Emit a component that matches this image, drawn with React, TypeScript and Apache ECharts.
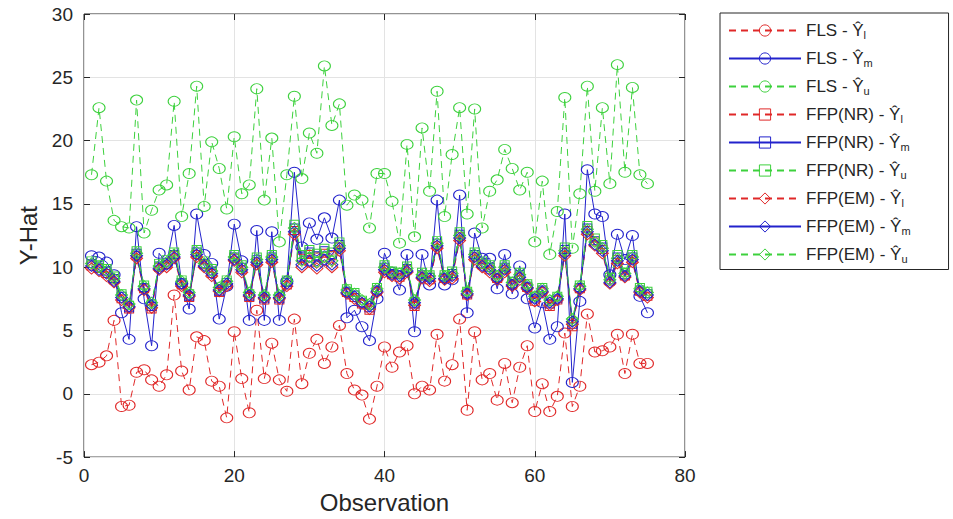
import React, { useEffect, useRef } from "react";
import * as echarts from "echarts";

const FONT = "'Liberation Sans', Arial, Helvetica, sans-serif";
const RED = "#e02828";
const BLUE = "#2222cc";
const GREEN = "#3dd13d";
const INK = "#262626";

const xRange = [0, 80];
const xStep = 20;
const yRange = [-5, 30];
const yStep = 5;

// Observation index runs 1..75
const flsLower = [
  2.3, 2.5, 3.0, 5.8, -1.0, -0.9, 1.7, 1.9, 1.1, 0.6,
  1.5, 7.8, 1.8, 0.3, 4.5, 4.2, 1.0, 0.6, -1.9, 4.9,
  1.2, -1.5, 6.6, 1.2, 4.0, 1.1, 0.2, 5.9, 0.8, 3.2,
  4.3, 2.4, 3.7, 5.4, 1.6, 0.3, -0.1, -2.0, 0.6, 3.7,
  2.1, 3.3, 3.8, 0.0, 0.6, 0.3, 4.7, 1.0, 2.3, 5.9,
  -1.3, 4.9, 1.1, 1.6, -0.5, 2.4, -0.7, 2.1, 3.8, -1.4,
  0.8, -1.4, -0.2, 4.8, -1.0, 0.6, 6.3, 3.3, 3.4, 3.7,
  4.7, 1.6, 4.7, 2.4, 2.4,
];

const flsMid = [
  10.9, 10.8, 10.4, 9.4, 6.4, 4.3, 13.2, 7.5, 3.8, 11.1,
  10.3, 13.3, 8.7, 6.7, 14.2, 11.0, 10.3, 5.9, 8.5, 13.4,
  10.5, 5.8, 12.9, 5.8, 12.8, 5.8, 8.9, 17.5, 11.6, 13.5,
  12.2, 13.9, 12.3, 15.3, 6.0, 6.6, 5.3, 4.2, 7.5, 11.1,
  9.6, 8.2, 11.0, 4.9, 11.0, 8.6, 15.3, 8.6, 9.0, 15.7,
  6.4, 12.7, 10.7, 10.7, 8.3, 11.0, 7.9, 10.1, 7.5, 5.2,
  7.2, 4.3, 5.3, 14.2, 0.9, 7.3, 17.7, 14.2, 14.0, 9.4,
  12.6, 10.6, 12.5, 7.7, 6.4,
];

const flsUpper = [
  17.3, 22.6, 16.8, 13.7, 13.2, 13.1, 23.2, 12.7, 14.5, 16.1,
  16.5, 23.1, 14.0, 17.4, 24.3, 14.8, 19.9, 17.8, 14.6, 20.3,
  15.8, 16.5, 24.1, 15.3, 20.2, 12.0, 17.3, 23.5, 17.0, 20.6,
  19.0, 25.9, 21.2, 22.9, 14.9, 15.7, 15.3, 13.1, 17.4, 17.4,
  15.2, 11.9, 19.7, 12.4, 21.0, 16.0, 23.9, 14.0, 18.9, 22.6,
  14.2, 22.5, 13.1, 16.0, 16.9, 19.3, 17.8, 16.1, 17.5, 12.0,
  16.8, 11.0, 14.4, 23.4, 11.5, 15.8, 24.3, 16.0, 22.6, 16.6,
  26.0, 17.5, 24.2, 17.3, 16.6,
];

const nrLower = [
  10.1, 9.9, 9.5, 9.0, 7.5, 6.7, 10.9, 8.3, 6.7, 10.0,
  10.2, 10.9, 8.6, 7.6, 11.0, 10.2, 9.5, 8.0, 8.6, 10.7,
  9.8, 7.6, 10.4, 7.4, 10.6, 7.4, 8.6, 12.9, 10.7, 11.0,
  10.8, 11.1, 10.9, 11.6, 8.0, 7.6, 7.1, 6.6, 8.1, 9.8,
  9.4, 9.2, 9.8, 6.9, 9.3, 9.0, 11.7, 9.1, 9.3, 12.4,
  7.8, 10.8, 10.2, 9.8, 9.1, 9.8, 8.6, 9.2, 8.4, 7.3,
  8.1, 6.9, 7.4, 11.2, 5.3, 8.3, 12.9, 12.0, 11.4, 8.9,
  10.6, 9.3, 10.6, 8.1, 7.7,
];

const nrMid = [
  10.3, 10.0, 9.7, 9.1, 7.7, 6.8, 11.1, 8.4, 6.9, 10.1,
  10.4, 11.0, 8.8, 7.7, 11.2, 10.3, 9.7, 8.1, 8.8, 10.8,
  10.0, 7.7, 10.6, 7.5, 10.8, 7.5, 8.8, 13.1, 10.8, 11.2,
  10.9, 11.3, 11.0, 11.8, 8.1, 7.8, 7.2, 6.8, 8.2, 10.0,
  9.5, 9.4, 9.9, 7.1, 9.4, 9.2, 11.9, 9.2, 9.5, 12.6,
  7.9, 11.0, 10.3, 10.0, 9.2, 10.0, 8.7, 9.4, 8.5, 7.5,
  8.2, 7.1, 7.5, 11.4, 5.5, 8.4, 13.1, 12.1, 11.6, 9.0,
  10.8, 9.4, 10.8, 8.2, 7.9,
];

const nrUpper = [
  10.5, 10.2, 9.9, 9.3, 7.9, 7.0, 11.3, 8.6, 7.1, 10.3,
  10.6, 11.2, 9.0, 7.9, 11.4, 10.5, 9.9, 8.3, 9.0, 11.0,
  10.2, 7.9, 10.8, 7.7, 11.0, 7.7, 9.0, 13.4, 11.0, 11.4,
  11.1, 11.5, 11.2, 12.0, 8.3, 8.0, 7.4, 7.0, 8.4, 10.2,
  9.7, 9.6, 10.1, 7.3, 9.6, 9.4, 12.1, 9.4, 9.7, 12.8,
  8.1, 11.2, 10.5, 10.2, 9.4, 10.2, 8.9, 9.6, 8.7, 7.7,
  8.4, 7.3, 7.7, 11.6, 5.7, 8.6, 13.3, 12.3, 11.8, 9.2,
  11.0, 9.6, 11.0, 8.4, 8.1,
];

const emLower = [
  9.9, 9.7, 9.3, 8.8, 7.4, 6.8, 10.7, 8.2, 6.8, 9.8,
  10.0, 10.7, 8.5, 7.7, 10.8, 10.0, 9.3, 8.1, 8.5, 10.5,
  9.6, 7.7, 10.2, 7.5, 10.4, 7.5, 8.5, 12.6, 10.0, 10.4,
  9.9, 10.5, 10.0, 11.3, 7.9, 7.5, 7.1, 6.7, 8.0, 9.6,
  9.3, 9.1, 9.6, 7.0, 9.1, 8.9, 11.5, 9.0, 9.1, 12.1,
  7.8, 10.6, 10.0, 9.6, 9.0, 9.6, 8.5, 9.0, 8.3, 7.3,
  8.0, 7.0, 7.4, 10.9, 5.5, 8.2, 12.6, 11.7, 11.1, 8.7,
  10.3, 9.2, 10.4, 8.0, 7.6,
];

const emMid = [
  10.1, 9.8, 9.5, 8.9, 7.6, 6.9, 10.9, 8.3, 7.0, 9.9,
  10.2, 10.8, 8.7, 7.8, 11.0, 10.1, 9.5, 8.2, 8.7, 10.6,
  9.8, 7.8, 10.4, 7.6, 10.6, 7.6, 8.7, 12.8, 10.2, 10.5,
  10.1, 10.6, 10.2, 11.5, 8.0, 7.7, 7.2, 6.9, 8.1, 9.8,
  9.4, 9.3, 9.7, 7.2, 9.2, 9.1, 11.7, 9.1, 9.3, 12.3,
  7.9, 10.8, 10.1, 9.8, 9.1, 9.8, 8.6, 9.2, 8.4, 7.5,
  8.1, 7.2, 7.5, 11.1, 5.7, 8.3, 12.8, 11.8, 11.3, 8.8,
  10.5, 9.3, 10.6, 8.1, 7.8,
];

const emUpper = [
  10.3, 10.0, 9.7, 9.1, 7.8, 7.1, 11.1, 8.5, 7.2, 10.1,
  10.4, 11.0, 8.9, 8.0, 11.2, 10.3, 9.7, 8.4, 8.9, 10.8,
  10.0, 8.0, 10.6, 7.8, 10.8, 7.8, 8.9, 13.1, 10.5, 10.8,
  10.4, 10.8, 10.5, 11.7, 8.2, 7.9, 7.4, 7.1, 8.3, 10.0,
  9.6, 9.5, 9.9, 7.4, 9.4, 9.3, 11.9, 9.3, 9.5, 12.5,
  8.1, 11.0, 10.3, 10.0, 9.3, 10.0, 8.8, 9.4, 8.6, 7.7,
  8.3, 7.4, 7.7, 11.3, 5.9, 8.5, 13.0, 12.0, 11.5, 9.0,
  10.7, 9.5, 10.8, 8.3, 8.0,
];

const seriesNames = [
  "FLS - Ŷl",
  "FLS - Ŷm",
  "FLS - Ŷu",
  "FFP(NR) - Ŷl",
  "FFP(NR) - Ŷm",
  "FFP(NR) - Ŷu",
  "FFP(EM) - Ŷl",
  "FFP(EM) - Ŷm",
  "FFP(EM) - Ŷu",
];

const seriesValues = [flsLower, flsMid, flsUpper, nrLower, nrMid, nrUpper, emLower, emMid, emUpper];

const seriesLook = [
  { color: RED, dashed: true, symbol: "circle", size: [12, 10] },
  { color: BLUE, dashed: false, symbol: "circle", size: [12, 10] },
  { color: GREEN, dashed: true, symbol: "circle", size: [12, 10] },
  { color: RED, dashed: true, symbol: "rect", size: [9, 8] },
  { color: BLUE, dashed: false, symbol: "rect", size: [9, 8] },
  { color: GREEN, dashed: true, symbol: "rect", size: [9, 8] },
  { color: RED, dashed: true, symbol: "diamond", size: [12, 11] },
  { color: BLUE, dashed: false, symbol: "diamond", size: [12, 11] },
  { color: GREEN, dashed: true, symbol: "diamond", size: [12, 11] },
];

const toPairs = (vals: number[]) => vals.map((v, k) => [k + 1, v]);

export default function App() {
  const ref = useRef<HTMLDivElement>(null);

  useEffect(() => {
    if (!ref.current) return;
    const chart = echarts.init(ref.current, undefined, { renderer: "svg" });

    const tick = { show: true, inside: true, length: 6, lineStyle: { color: INK, width: 1 } };
    const hiddenLine = { show: false, onZero: false };

    const option: any = {
      animation: false,
      backgroundColor: "#ffffff",
      textStyle: { fontFamily: FONT },
      grid: {
        left: 84,
        top: 14,
        width: 601,
        height: 448,
        show: true,
        borderColor: INK,
        borderWidth: 1,
        backgroundColor: "transparent",
      },
      xAxis: [
        {
          type: "value",
          min: xRange[0],
          max: xRange[1],
          interval: xStep,
          position: "bottom",
          axisLine: hiddenLine,
          axisTick: tick,
          axisLabel: { fontSize: 19, color: INK, margin: 9, fontFamily: FONT },
          splitLine: { show: true, lineStyle: { color: "#e3e3e3", width: 1 } },
          name: "Observation",
          nameLocation: "middle",
          nameGap: 31,
          nameTextStyle: { fontSize: 24, color: INK, fontFamily: FONT },
        },
        {
          type: "value",
          min: xRange[0],
          max: xRange[1],
          interval: xStep,
          position: "top",
          axisLine: hiddenLine,
          axisTick: tick,
          axisLabel: { show: false },
          splitLine: { show: false },
        },
      ],
      yAxis: [
        {
          type: "value",
          min: yRange[0],
          max: yRange[1],
          interval: yStep,
          position: "left",
          axisLine: hiddenLine,
          axisTick: tick,
          axisLabel: { fontSize: 19, color: INK, margin: 11, fontFamily: FONT },
          splitLine: { show: true, lineStyle: { color: "#e3e3e3", width: 1 } },
          name: "Y-Hat",
          nameLocation: "middle",
          nameGap: 44,
          nameTextStyle: { fontSize: 24, color: INK, fontFamily: FONT },
        },
        {
          type: "value",
          min: yRange[0],
          max: yRange[1],
          interval: yStep,
          position: "right",
          axisLine: hiddenLine,
          axisTick: tick,
          axisLabel: { show: false },
          splitLine: { show: false },
        },
      ],
      legend: {
        orient: "vertical",
        left: 720,
        top: 13,
        itemWidth: 72,
        itemHeight: 14,
        itemGap: 9.5,
        padding: [9, 38, 5, 8],
        borderColor: INK,
        borderWidth: 1,
        borderRadius: 0,
        backgroundColor: "#ffffff",
        selectedMode: false,
        itemStyle: { borderWidth: 1 },
        data: seriesNames,
        formatter: (name: string) => `{a|${name.slice(0, -1)}}{s|${name.slice(-1)}}`,
        textStyle: {
          color: INK,
          fontFamily: FONT,
          fontSize: 17,
          rich: {
            a: { fontSize: 17, lineHeight: 20, color: INK, fontFamily: FONT },
            s: { fontSize: 11, lineHeight: 6, verticalAlign: "bottom", color: INK, fontFamily: FONT },
          },
        },
      },
      series: seriesNames.map((name, k) => {
        const look = seriesLook[k];
        return {
          name,
          type: "line",
          xAxisIndex: 0,
          yAxisIndex: 0,
          data: toPairs(seriesValues[k]),
          symbol: look.symbol,
          symbolSize: look.size,
          showSymbol: true,
          showAllSymbol: true,
          lineStyle: { color: look.color, width: 1, type: look.dashed ? [7, 5] : "solid" },
          itemStyle: { color: "transparent", borderColor: look.color, borderWidth: 1 },
          emphasis: { disabled: true },
          silent: true,
        };
      }),
    };

    chart.setOption(option);
    return () => chart.dispose();
  }, []);

  return (
    <div
      ref={ref}
      style={{ position: "absolute", left: 0, top: 0, width: 953, height: 519, background: "#fff" }}
    />
  );
}
